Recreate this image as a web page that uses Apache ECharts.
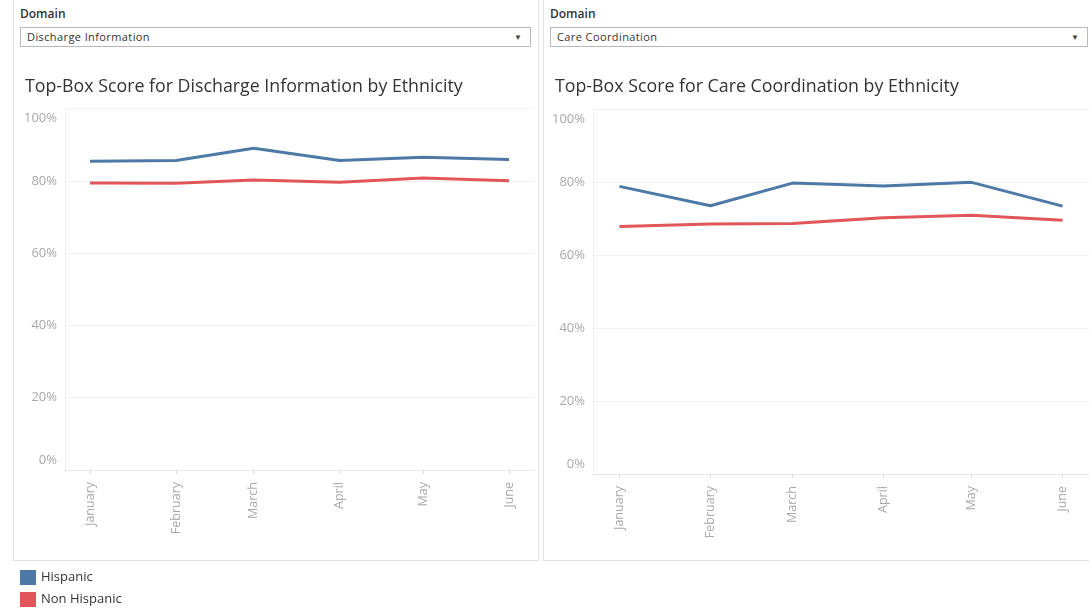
<!DOCTYPE html>
<html>
<head>
<meta charset="utf-8">
<script src="https://cdn.jsdelivr.net/npm/echarts@6/dist/echarts.min.js"></script>
<style>
  html, body { margin: 0; padding: 0; background: #fff; }
  body { width: 1089px; height: 616px; position: relative; overflow: hidden; font-family: 'Open Sans', sans-serif; }
  #chart { position: absolute; left: 0; top: 0; width: 1089px; height: 616px; }
  .panel { position: absolute; border: 1px solid #e3e3e3; border-top: none; box-sizing: border-box; }
  .domain { position: absolute; font-size: 12px; color: #333; font-weight: 600; }
  .dd { position: absolute; height: 20px; border: 1px solid #b8b8b8; box-sizing: border-box; font-size: 11px; letter-spacing: 0.4px; color: #333; line-height: 18px; padding-left: 6px; background: #fff; }
  .dd span.arr { position: absolute; right: 8px; top: 0; font-size: 8px; color: #444; letter-spacing: 0; }
</style>
</head>
<body>
<div class="panel" style="left:13px; top:-1px; width:526px; height:562px;"></div>
<div class="panel" style="left:543px; top:-1px; width:560px; height:562px;"></div>
<div class="domain" style="left:20px; top:5px;">Domain</div>
<div class="dd" style="left:20px; top:27px; width:511px;">Discharge Information<span class="arr">&#9660;</span></div>
<div class="domain" style="left:550px; top:5px;">Domain</div>
<div class="dd" style="left:550px; top:27px; width:538px;">Care Coordination<span class="arr">&#9660;</span></div>
<div id="chart"></div>
<script>
// ---- data ----
const months = ['2019-01-01', '2019-02-01', '2019-03-01', '2019-04-01', '2019-05-01', '2019-06-01'];
const monthNames = ['January', 'February', 'March', 'April', 'May', 'June'];
const seriesNames = ['Hispanic', 'Non Hispanic'];
const dischargeHispanic = [85.4, 85.6, 89.0, 85.6, 86.5, 85.9];
const dischargeNonHispanic = [79.4, 79.3, 80.2, 79.6, 80.8, 80.0];
const careHispanic = [78.8, 73.5, 79.7, 78.9, 79.9, 73.4];
const careNonHispanic = [67.8, 68.5, 68.6, 70.2, 70.9, 69.5];
const yTicks = [0, 20, 40, 60, 80, 100];
const titles = ['Top-Box Score for Discharge Information by Ethnicity', 'Top-Box Score for Care Coordination by Ethnicity'];

const colors = ['#4e79a7', '#e15759'];
const FONT = 'Open Sans';
const monthTs = months.map(m => { const p = m.split('-'); return Date.UTC(+p[0], +p[1] - 1, +p[2]); });
function pairs(vals) { return months.map((m, i) => [monthTs[i], vals[i]]); }
function monthLabel(v) {
  const i = monthTs.indexOf(v);
  return i >= 0 ? monthNames[i] : '';
}

const grids = [
  { left: 65, top: 108.5, width: 469, height: 361.5 },
  { left: 593, top: 109, width: 497, height: 365 }
];

function xAxis(gi) {
  return {
    type: 'value', gridIndex: gi, scale: true,
    min: Date.UTC(2018, 11, 23), max: Date.UTC(2019, 5, 10),
    axisLine: { show: true, onZero: false, lineStyle: { color: '#e6e6e6', width: 1 } },
    axisTick: { show: true, length: 4, lineStyle: { color: '#dcdcdc' }, customValues: monthTs },
    axisLabel: { customValues: monthTs, rotate: 90, margin: 12, color: '#a8a8a8', fontSize: 12.5, fontFamily: FONT, formatter: monthLabel },
    splitLine: { show: false }
  };
}
function yAxis(gi) {
  return {
    type: 'value', gridIndex: gi, min: yTicks[0], max: yTicks[yTicks.length - 1], interval: 20,
    axisLine: { show: true, lineStyle: { color: '#efefef' } },
    axisTick: { show: false },
    axisLabel: { color: '#a8a8a8', fontSize: 13, lineHeight: 20, fontFamily: FONT, margin: 8, formatter: '{value}%',
      verticalAlignMaxLabel: 'top', verticalAlignMinLabel: 'bottom' },
    splitLine: { show: true, lineStyle: { color: '#f0f0f0', width: 1 } }
  };
}
function line(name, gi, vals, color) {
  return { name: name, type: 'line', xAxisIndex: gi, yAxisIndex: gi, data: pairs(vals),
    showSymbol: false, symbol: 'none', lineStyle: { width: 3, color: color }, itemStyle: { color: color },
    animation: false, z: name === seriesNames[0] ? 3 : 2 };
}

const titleStyle = { fontFamily: FONT, fontSize: 17.8, fontWeight: 'normal', color: '#333' };
const chart = echarts.init(document.getElementById('chart'), null, { renderer: 'canvas' });
chart.setOption({
  animation: false,
  grid: grids,
  title: [
    { text: titles[0], left: 25, top: 78, padding: 0, textStyle: titleStyle },
    { text: titles[1], left: 555, top: 78, padding: 0, textStyle: titleStyle }
  ],
  legend: {
    orient: 'vertical', left: 20, top: 570, padding: 0, itemWidth: 16, itemHeight: 15, itemGap: 7, icon: 'rect',
    data: seriesNames, selectedMode: false,
    textStyle: { fontFamily: FONT, fontSize: 13, color: '#333' }
  },
  xAxis: [xAxis(0), xAxis(1)],
  yAxis: [yAxis(0), yAxis(1)],
  series: [
    line(seriesNames[0], 0, dischargeHispanic, colors[0]),
    line(seriesNames[1], 0, dischargeNonHispanic, colors[1]),
    line(seriesNames[0], 1, careHispanic, colors[0]),
    line(seriesNames[1], 1, careNonHispanic, colors[1])
  ]
});
</script>
</body>
</html>
